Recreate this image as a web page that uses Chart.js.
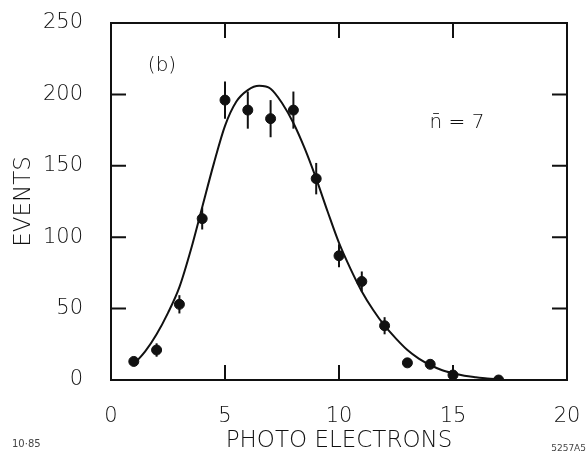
<!DOCTYPE html>
<html>
<head>
<meta charset="utf-8">
<script src="https://cdn.jsdelivr.net/npm/chart.js@4"></script>
<style>
  html, body { margin: 0; padding: 0; background: #fff; }
  #wrap { width: 586px; height: 458px; }
</style>
</head>
<body>
<div id="wrap"><canvas id="grafico" width="586" height="458"></canvas></div>
<script>
// measured points (photo electrons vs events) with error bars
const pointX = [1, 2, 3, 4, 5, 6, 7, 8, 9, 10, 11, 12, 13, 14, 15, 17];
const pointY = [13, 21, 53, 113, 196, 189, 183, 189, 141, 87, 69, 38, 12, 11, 3.5, 0];
const pointErr = [3, 4.7, 6.4, 7.6, 13, 13, 13, 13, 11, 8, 7, 6, 0, 0, 6, 0];

// fitted curve
const curveX = [1, 1.5, 2, 2.5, 3, 3.5, 4, 4.5, 5, 5.5, 6, 6.5, 7, 7.5, 8, 8.5, 9,
  9.5, 10, 10.5, 11, 11.5, 12, 12.5, 13, 13.5, 14, 14.5, 15, 15.5, 16, 16.5, 17];
const curveY = [11, 20, 32, 47, 65, 91, 121, 151, 178, 195, 203, 206, 204, 194, 180, 162, 141,
  118, 96, 78, 62, 49, 38, 29, 21, 15, 10.5, 7, 4.7, 3, 1.9, 1, 0.5];

const xTicks = [0, 5, 10, 15, 20];
const yTicks = [0, 50, 100, 150, 200, 250];

const FONT = '"DejaVu Sans", "Liberation Sans", sans-serif';
const INK = '#111';

// error bars, frame, inward ticks and the loose labels
const figura = {
  id: 'figura',
  beforeDatasetsDraw(chart) {
    const { ctx, chartArea: a, scales: { x, y } } = chart;
    ctx.save();
    ctx.beginPath();
    ctx.rect(a.left, a.top, a.right - a.left, a.bottom - a.top);
    ctx.clip();
    ctx.strokeStyle = INK;
    ctx.lineWidth = 2;
    pointX.forEach((v, i) => {
      if (!pointErr[i]) return;
      const px = x.getPixelForValue(v);
      ctx.beginPath();
      ctx.moveTo(px, y.getPixelForValue(pointY[i] - pointErr[i]));
      ctx.lineTo(px, y.getPixelForValue(pointY[i] + pointErr[i]));
      ctx.stroke();
    });
    ctx.restore();
  },
  afterDraw(chart) {
    const { ctx, chartArea: a, scales: { x, y } } = chart;
    ctx.save();
    ctx.strokeStyle = INK;
    ctx.lineWidth = 2;
    ctx.strokeRect(a.left, a.top, a.right - a.left, a.bottom - a.top);
    const len = 15;
    ctx.beginPath();
    xTicks.slice(1, -1).forEach(v => {
      const px = x.getPixelForValue(v);
      ctx.moveTo(px, a.bottom); ctx.lineTo(px, a.bottom - len);
      ctx.moveTo(px, a.top); ctx.lineTo(px, a.top + len);
    });
    yTicks.slice(1, -1).forEach(v => {
      const py = y.getPixelForValue(v);
      ctx.moveTo(a.left, py); ctx.lineTo(a.left + len, py);
      ctx.moveTo(a.right, py); ctx.lineTo(a.right - len, py);
    });
    ctx.stroke();

    ctx.fillStyle = INK;
    ctx.textBaseline = 'middle';
    ctx.textAlign = 'center';
    ctx.font = '200 20px ' + FONT;
    ctx.fillText('(b)', 162, 66);
    ctx.fillText('n\u0304 = 7', 457, 123);
    ctx.fillStyle = '#444';
    ctx.font = '10px ' + FONT;
    ctx.textAlign = 'left';
    ctx.fillText('10\u00b785', 12, 444);
    ctx.font = '9px ' + FONT;
    ctx.textAlign = 'right';
    ctx.fillText('5257A5', 586, 449);
    ctx.restore();
  }
};

const ctx = document.getElementById('grafico').getContext('2d');
new Chart(ctx, {
  type: 'scatter',
  data: {
    datasets: [
      {
        type: 'line',
        data: curveX.map((v, i) => ({ x: v, y: curveY[i] })),
        borderColor: INK,
        borderWidth: 2,
        pointRadius: 0,
        fill: false,
        cubicInterpolationMode: 'monotone'
      },
      {
        data: pointX.map((v, i) => ({ x: v, y: pointY[i] })),
        backgroundColor: INK,
        borderColor: INK,
        pointRadius: 5,
        pointHoverRadius: 5
      }
    ]
  },
  options: {
    responsive: false,
    animation: false,
    layout: { padding: { top: 23, right: 19, left: 0, bottom: 0 } },
    plugins: {
      legend: { display: false },
      tooltip: { enabled: false }
    },
    scales: {
      x: {
        type: 'linear',
        min: 0,
        max: 20,
        afterFit(s) {
          s.height = 78;
          s.paddingLeft = 0; s.paddingRight = 0;
        },
        afterBuildTicks(s) { s.ticks = xTicks.map(v => ({ value: v })); },
        grid: { display: false },
        border: { display: false },
        ticks: { color: INK, padding: 16, font: { family: FONT, size: 21, weight: '200' } },
        title: {
          display: true,
          text: 'PHOTO ELECTRONS',
          color: INK,
          padding: { top: 0, bottom: 3 },
          font: { family: FONT, size: 23, weight: '200' }
        }
      },
      y: {
        min: 0,
        max: 250,
        afterFit(s) {
          s.width = 111;
          s.paddingTop = 0; s.paddingBottom = 0;
        },
        afterBuildTicks(s) { s.ticks = yTicks.map(v => ({ value: v })); },
        grid: { display: false },
        border: { display: false },
        ticks: { color: INK, padding: 20, font: { family: FONT, size: 21, weight: '200' } },
        title: {
          display: true,
          text: 'EVENTS',
          color: INK,
          padding: { top: 10, bottom: 0 },
          font: { family: FONT, size: 23, weight: '200' }
        }
      }
    }
  },
  plugins: [figura]
});
</script>
</body>
</html>
